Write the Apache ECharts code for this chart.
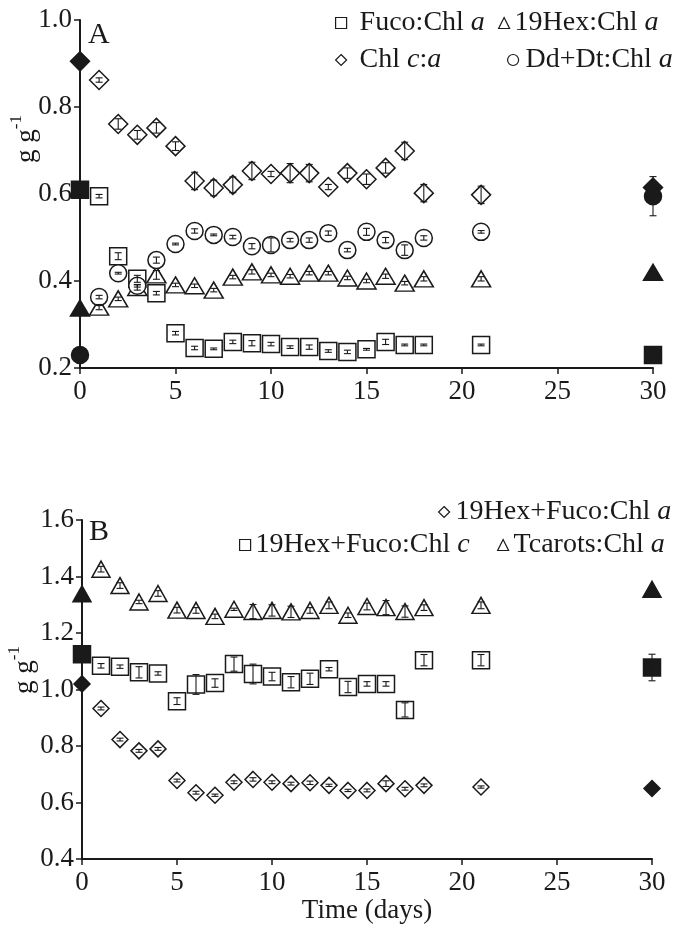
<!DOCTYPE html>
<html>
<head>
<meta charset="utf-8">
<script src="https://cdn.jsdelivr.net/npm/echarts@6/dist/echarts.min.js"></script>
<style>
  html, body { margin: 0; padding: 0; background: #fff; }
  #chart { width: 681px; height: 925px; }
</style>
</head>
<body>
<div id="chart"></div>
<script>
// sampling days (same for every series)
var days = [0, 1, 2, 3, 4, 5, 6, 7, 8, 9, 10, 11, 12, 13, 14, 15, 16, 17, 18, 21, 30];
var xTicks = [0, 5, 10, 15, 20, 25, 30];

// panel A, g g-1
var fucoA = [0.610, 0.595, 0.457, 0.405, 0.372, 0.280, 0.246, 0.244, 0.260, 0.257, 0.255, 0.248, 0.248, 0.239, 0.237, 0.243, 0.260, 0.253, 0.253, 0.253, 0.230];
var fucoAErr = [0, 0.004, 0.008, 0.008, 0.004, 0.004, 0.004, 0.002, 0.004, 0.006, 0.004, 0.003, 0.005, 0.003, 0.004, 0.002, 0.006, 0.002, 0.002, 0.002, 0];
var hexA = [0.338, 0.340, 0.359, 0.385, 0.414, 0.391, 0.389, 0.379, 0.409, 0.421, 0.414, 0.411, 0.418, 0.418, 0.407, 0.400, 0.411, 0.395, 0.405, 0.405, 0.420];
var hexAErr = [0, 0.006, 0.004, 0.006, 0.010, 0.004, 0.004, 0.004, 0.004, 0.005, 0.004, 0.004, 0.004, 0.004, 0.004, 0.004, 0.005, 0.004, 0.005, 0.005, 0.004];
var chlcA = [0.905, 0.862, 0.761, 0.736, 0.752, 0.710, 0.630, 0.614, 0.621, 0.653, 0.646, 0.648, 0.648, 0.616, 0.648, 0.634, 0.660, 0.699, 0.602, 0.598, 0.615];
var chlcAErr = [0, 0.005, 0.012, 0.010, 0.012, 0.010, 0.020, 0.018, 0.018, 0.020, 0.006, 0.022, 0.020, 0.006, 0.012, 0.012, 0.012, 0.020, 0.020, 0.020, 0];
var ddA = [0.230, 0.363, 0.418, 0.389, 0.448, 0.485, 0.515, 0.506, 0.501, 0.480, 0.483, 0.494, 0.494, 0.510, 0.471, 0.513, 0.494, 0.471, 0.499, 0.513, 0.595];
var ddAErr = [0, 0.004, 0.002, 0.003, 0.007, 0.002, 0.005, 0.002, 0.004, 0.006, 0.016, 0.004, 0.005, 0.005, 0.004, 0.008, 0.006, 0.012, 0.005, 0.003, 0.045];

// panel B, g g-1
var hexFucoA = [1.020, 0.933, 0.823, 0.783, 0.790, 0.678, 0.635, 0.626, 0.672, 0.682, 0.672, 0.667, 0.670, 0.661, 0.643, 0.643, 0.667, 0.649, 0.661, 0.655, 0.650];
var hexFucoAErr = [0, 0.005, 0.005, 0.005, 0.005, 0.005, 0.005, 0.004, 0.005, 0.006, 0.005, 0.005, 0.006, 0.004, 0.004, 0.005, 0.010, 0.005, 0.005, 0.004, 0];
var hexFucoC = [1.125, 1.084, 1.081, 1.061, 1.057, 0.959, 1.018, 1.023, 1.090, 1.055, 1.046, 1.026, 1.038, 1.072, 1.009, 1.020, 1.020, 0.928, 1.104, 1.104, 1.078];
var hexFucoCErr = [0, 0.008, 0.006, 0.020, 0.006, 0.012, 0.035, 0.015, 0.025, 0.035, 0.015, 0.020, 0.020, 0.006, 0.020, 0.008, 0.008, 0.025, 0.020, 0.020, 0.047];
var tcarB = [1.339, 1.426, 1.368, 1.310, 1.340, 1.281, 1.280, 1.259, 1.284, 1.276, 1.280, 1.275, 1.280, 1.298, 1.263, 1.294, 1.290, 1.276, 1.290, 1.298, 1.355];
var tcarBErr = [0, 0.010, 0.010, 0.006, 0.010, 0.010, 0.010, 0.008, 0.004, 0.025, 0.020, 0.020, 0.010, 0.012, 0.008, 0.012, 0.025, 0.020, 0.010, 0.012, 0.005];

var FONT = "'Liberation Serif', 'DejaVu Serif', serif";
var INK = '#1a1a1a';

function pts(vals) {
  // first and last samples are drawn filled
  return days.map(function (d, i) {
    var item = { value: [d, vals[i]] };
    if (i === 0 || i === days.length - 1) item.itemStyle = { color: INK };
    return item;
  });
}
function bars(vals, errs) {
  return days.map(function (d, i) { return [d, vals[i] - errs[i], vals[i] + errs[i]]; });
}
function errRender(params, api) {
  var lo = api.value(1), hi = api.value(2);
  if (hi - lo < 1e-6) return null;
  var a = api.coord([api.value(0), lo]);
  var b = api.coord([api.value(0), hi]);
  var w = 3.5;
  var st = { stroke: INK, lineWidth: 1.1 };
  return {
    type: 'group',
    children: [
      { type: 'line', shape: { x1: a[0], y1: a[1], x2: b[0], y2: b[1] }, style: st },
      { type: 'line', shape: { x1: a[0] - w, y1: a[1], x2: a[0] + w, y2: a[1] }, style: st },
      { type: 'line', shape: { x1: b[0] - w, y1: b[1], x2: b[0] + w, y2: b[1] }, style: st }
    ]
  };
}
function scat(name, k, vals, symbol, size) {
  return {
    name: name, type: 'scatter', xAxisIndex: k, yAxisIndex: k,
    symbol: symbol, symbolSize: size, data: pts(vals), z: 2,
    itemStyle: { color: '#fff', borderColor: INK, borderWidth: 1.5, opacity: 1 },
    emphasis: { disabled: true }
  };
}
function errs(k, vals, e) {
  return {
    type: 'custom', xAxisIndex: k, yAxisIndex: k, z: 3, silent: true,
    renderItem: errRender, data: bars(vals, e)
  };
}

var richText = {
  n: { fontFamily: FONT, fontSize: 28, color: INK, lineHeight: 30 },
  i: { fontFamily: FONT, fontSize: 28, color: INK, lineHeight: 30, fontStyle: 'italic' }
};
var labels = {
  'Fuco:Chl a': '{n|Fuco:Chl }{i|a}',
  '19Hex:Chl a': '{n|19Hex:Chl }{i|a}',
  'Chl c:a': '{n|Chl }{i|c}{n|:}{i|a}',
  'Dd+Dt:Chl a': '{n|Dd+Dt:Chl }{i|a}',
  '19Hex+Fuco:Chl a': '{n|19Hex+Fuco:Chl }{i|a}',
  '19Hex+Fuco:Chl c': '{n|19Hex+Fuco:Chl }{i|c}',
  'Tcarots:Chl a': '{n|Tcarots:Chl }{i|a}'
};
function leg(name, left, cy, pad) {
  var rich = {
    n: Object.assign({}, richText.n), i: Object.assign({}, richText.i),
    p: { width: pad, lineHeight: 30 }
  };
  return {
    data: [name], left: left, top: cy - 15, padding: 0,
    itemWidth: 11, itemHeight: 11, selectedMode: false,
    itemStyle: { borderWidth: 1.2 },
    formatter: function (n) { return (pad > 0 ? '{p|}' : '') + labels[n]; },
    textStyle: { rich: rich }
  };
}

function xAx(k) {
  return {
    gridIndex: k, type: 'value', min: 0, max: 30, interval: 5,
    axisLine: { show: true, lineStyle: { color: INK, width: 2 } },
    axisTick: { show: true, length: 6, lineStyle: { color: INK, width: 1.5 } },
    axisLabel: { fontFamily: FONT, fontSize: 27, color: INK, margin: 10 },
    splitLine: { show: false }
  };
}
function yAx(k, mn, mx) {
  return {
    gridIndex: k, type: 'value', min: mn, max: mx, interval: 0.2,
    axisLine: { show: true, lineStyle: { color: INK, width: 2 } },
    axisTick: { show: true, length: 6, lineStyle: { color: INK, width: 1.5 } },
    axisLabel: {
      fontFamily: FONT, fontSize: 27, color: INK, margin: 8,
      formatter: function (v) { return v.toFixed(1); }
    },
    splitLine: { show: false }
  };
}
function yName(x, y) {
  return {
    type: 'text', x: x, y: y, rotation: Math.PI / 2,
    style: {
      text: '{a|g g}{b|-1}', align: 'center', verticalAlign: 'middle',
      rich: {
        a: { fontFamily: FONT, fontSize: 27, fill: INK, lineHeight: 32, verticalAlign: 'bottom' },
        b: { fontFamily: FONT, fontSize: 17, fill: INK, lineHeight: 18, verticalAlign: 'top' }
      }
    }
  };
}

var chart = echarts.init(document.getElementById('chart'), null, { renderer: 'canvas' });
chart.setOption({
  backgroundColor: '#fff',
  animation: false,
  grid: [
    { left: 80, top: 20, width: 573, height: 348 },
    { left: 82, top: 520, width: 570, height: 345 }
  ],
  xAxis: [
    xAx(0),
    Object.assign(xAx(1), {
      name: 'Time (days)', nameLocation: 'middle', nameGap: 33,
      nameTextStyle: { fontFamily: FONT, fontSize: 27, color: INK }
    })
  ],
  yAxis: [yAx(0, 0.2, 1.0), yAx(1, 0.4, 1.6)],
  legend: [
    leg('Fuco:Chl a', 335, 24, 8),
    leg('19Hex:Chl a', 498, 24, 0),
    leg('Chl c:a', 335, 61, 8),
    leg('Dd+Dt:Chl a', 507, 61, 2),
    leg('19Hex+Fuco:Chl a', 438, 513, 1),
    leg('19Hex+Fuco:Chl c', 239, 546, 0),
    leg('Tcarots:Chl a', 497, 546, 0)
  ],
  graphic: [
    { type: 'text', left: 88, top: 20, style: { text: 'A', fontFamily: FONT, fontSize: 30, fill: INK } },
    { type: 'text', left: 89, top: 517, style: { text: 'B', fontFamily: FONT, fontSize: 30, fill: INK } },
    yName(24, 139),
    yName(22, 670)
  ],
  series: [
    scat('Fuco:Chl a', 0, fucoA, 'rect', 17),
    scat('19Hex:Chl a', 0, hexA, 'triangle', [19, 16]),
    scat('Chl c:a', 0, chlcA, 'diamond', 19),
    scat('Dd+Dt:Chl a', 0, ddA, 'circle', 17),
    errs(0, fucoA, fucoAErr),
    errs(0, hexA, hexAErr),
    errs(0, chlcA, chlcAErr),
    errs(0, ddA, ddAErr),
    scat('19Hex+Fuco:Chl a', 1, hexFucoA, 'diamond', 16),
    scat('19Hex+Fuco:Chl c', 1, hexFucoC, 'rect', 17),
    scat('Tcarots:Chl a', 1, tcarB, 'triangle', [18, 16]),
    errs(1, hexFucoA, hexFucoAErr),
    errs(1, hexFucoC, hexFucoCErr),
    errs(1, tcarB, tcarBErr)
  ]
});
</script>
</body>
</html>
